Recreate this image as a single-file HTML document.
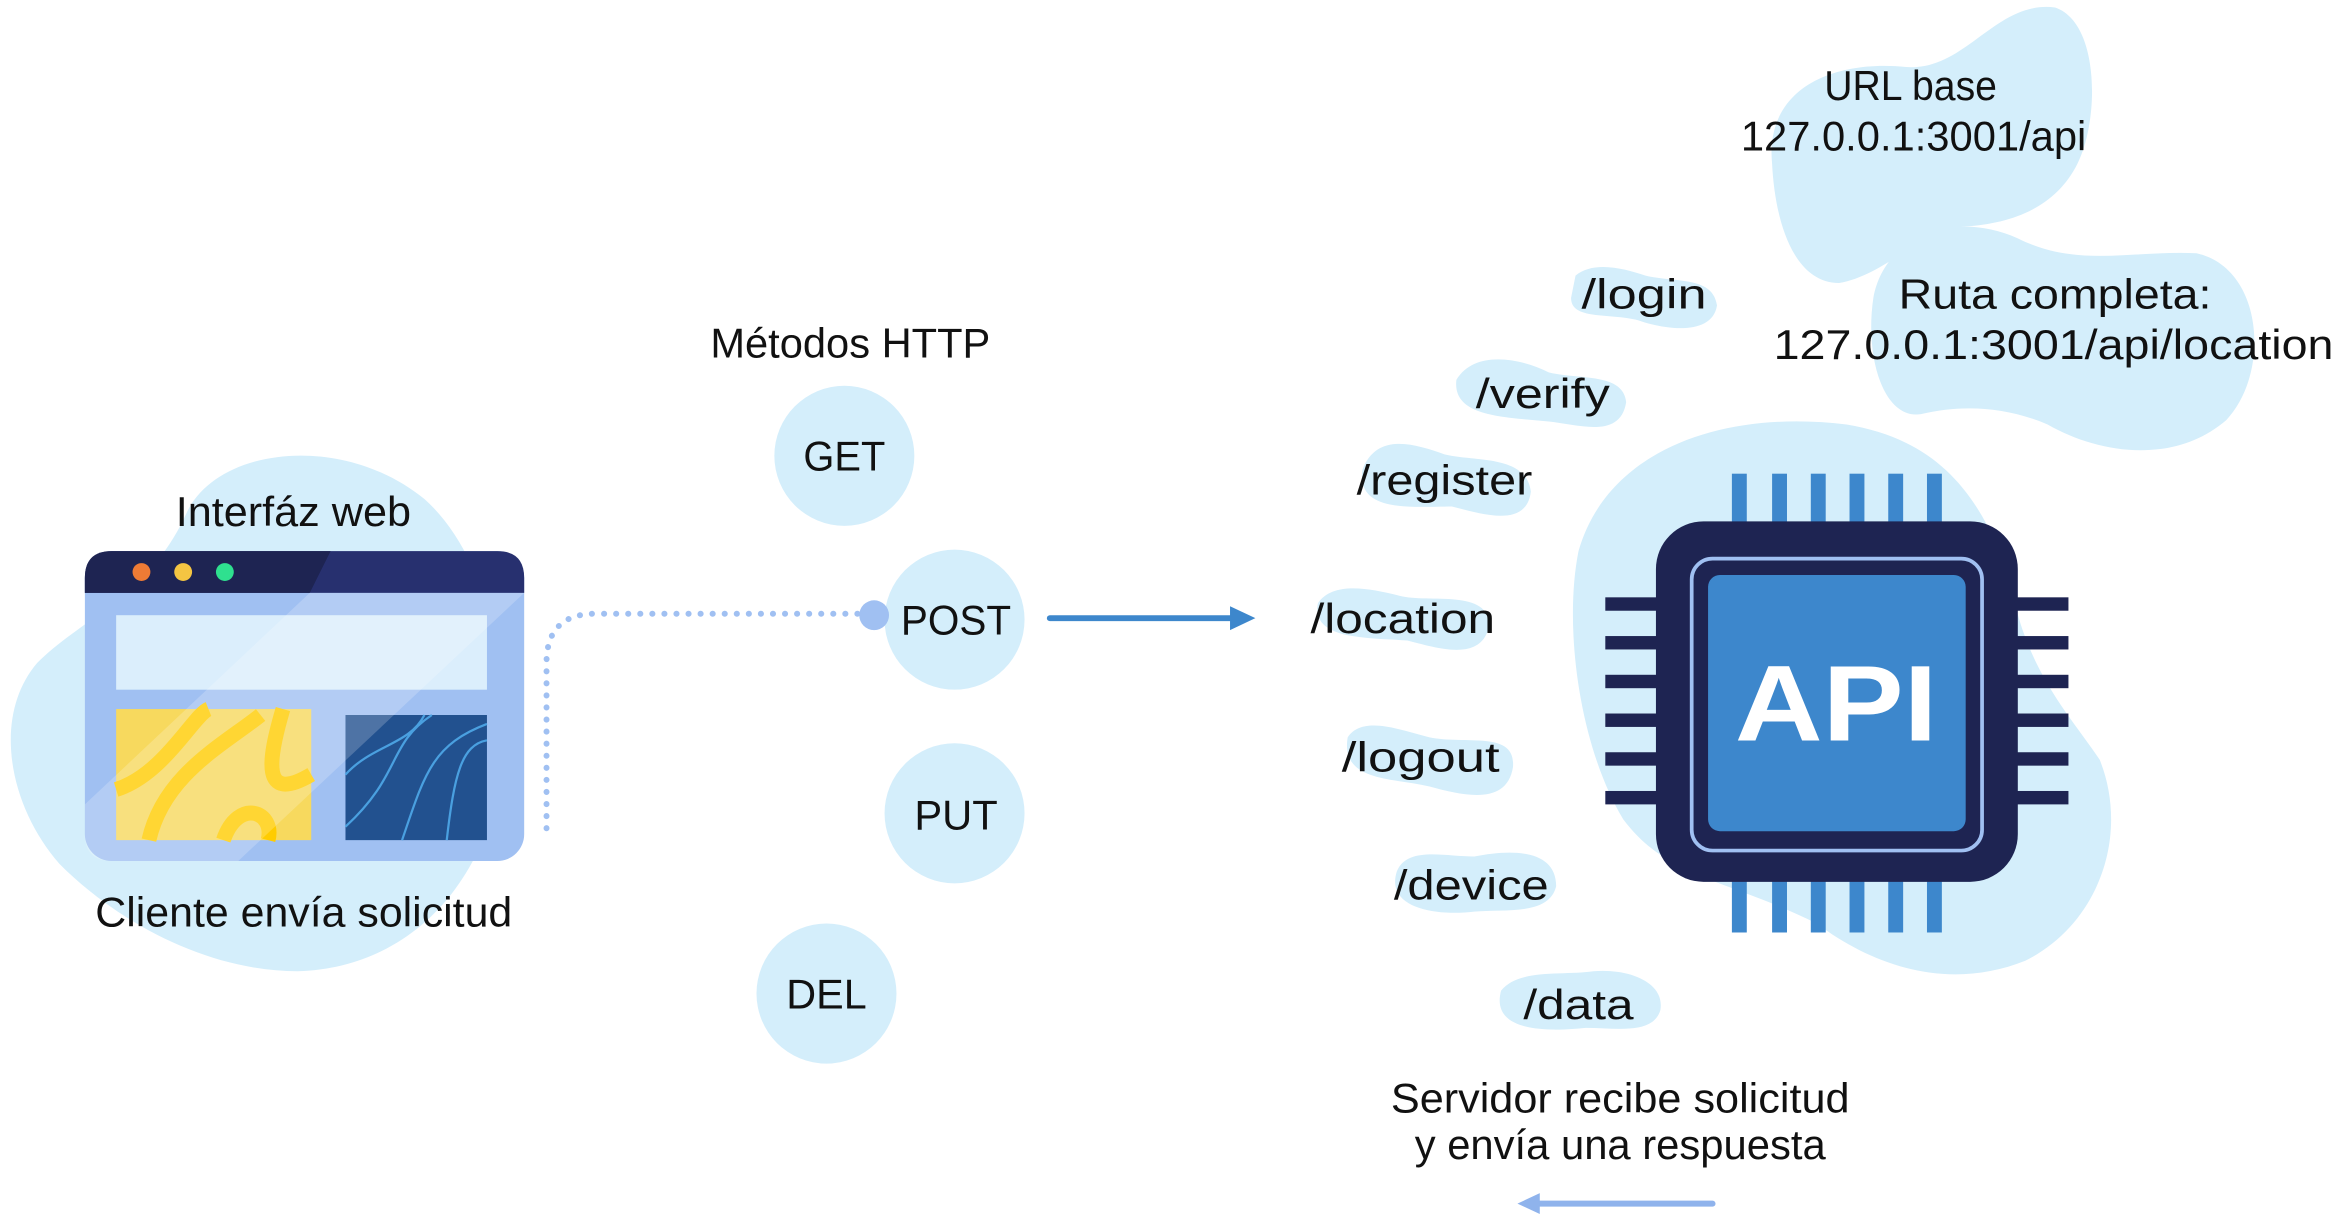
<!DOCTYPE html>
<html><head><meta charset="utf-8"><style>
html,body{margin:0;padding:0;background:#fff;}
svg{display:block;}
text{font-family:"Liberation Sans",sans-serif;fill:#111;}
</style></head><body>
<svg width="2335" height="1217" viewBox="0 0 1568 817" preserveAspectRatio="none" xmlns="http://www.w3.org/2000/svg">
<g fill="#d4eefb">
<path d="M125,345 C145,300 230,290 285,335 C330,375 345,460 335,530 C320,600 270,650 200,652 C140,652 80,620 40,580 C5,540 -5,480 25,445 C55,415 100,400 125,345Z"/>
<ellipse cx="567" cy="306" rx="47" ry="47"/>
<ellipse cx="641" cy="416" rx="47" ry="47"/>
<ellipse cx="641" cy="546" rx="47" ry="47"/>
<ellipse cx="555" cy="667" rx="47" ry="47"/>
<path d="M1190,110 C1185,60 1230,40 1280,45 C1320,48 1340,0 1380,5 C1410,15 1410,80 1395,110 C1380,140 1350,150 1320,152 C1290,155 1265,185 1235,190 C1205,190 1192,150 1190,110Z"/>
<path d="M1258,200 C1265,160 1310,140 1355,160 C1395,180 1430,168 1475,170 C1520,180 1525,250 1495,282 C1460,312 1410,305 1375,285 C1345,272 1315,272 1290,278 C1265,282 1252,240 1258,200Z"/>
<path d="M1060,370 C1080,300 1160,275 1240,285 C1300,295 1330,330 1350,390 C1360,450 1390,480 1410,510 C1430,560 1410,620 1360,645 C1310,665 1260,650 1220,620 C1160,590 1120,590 1090,550 C1060,500 1050,420 1060,370Z"/>
<path d="M1058,185 C1070,175 1090,180 1105,185 C1125,190 1150,185 1153,205 C1150,225 1120,222 1100,215 C1080,210 1055,215 1055,200Z"/>
<path d="M978,255 C990,235 1020,240 1040,250 C1060,255 1090,250 1092,270 C1088,295 1060,285 1040,283 C1010,280 975,280 978,255Z"/>
<path d="M915,315 C925,290 950,298 970,305 C990,310 1025,305 1028,330 C1025,355 995,345 975,340 C950,340 910,345 915,315Z"/>
<path d="M885,405 C895,390 920,395 940,400 C960,405 1000,395 1000,420 C995,445 965,435 945,430 C920,428 880,430 885,405Z"/>
<path d="M905,495 C915,480 940,490 960,495 C985,500 1018,490 1016,515 C1012,540 985,535 960,528 C935,522 900,525 905,495Z"/>
<path d="M938,585 C945,568 970,575 990,575 C1015,570 1045,570 1045,595 C1040,615 1010,610 990,612 C965,615 930,610 938,585Z"/>
<path d="M1008,665 C1020,650 1050,655 1070,652 C1095,650 1118,660 1115,678 C1110,695 1085,690 1065,690 C1045,692 1000,695 1008,665Z"/>
</g>

<!-- browser -->
<rect x="57" y="370" width="295" height="208" rx="18" fill="#a0c0f2"/>
<path d="M57,398 L57,388 Q57,370 75,370 L334,370 Q352,370 352,388 L352,398Z" fill="#27306f"/>
<path d="M57,398 L57,388 Q57,370 75,370 L222,370 L208,398Z" fill="#1e2452"/>
<circle cx="95" cy="384" r="6" fill="#ee7b35"/>
<circle cx="123" cy="384" r="6" fill="#f4c542"/>
<circle cx="151" cy="384" r="6" fill="#2fe08f"/>
<rect x="78" y="413" width="249" height="50" fill="#dbeefc"/>
<rect x="78" y="476" width="131" height="88" fill="#f7d95e"/>
<path d="M78,530 C110,520 130,480 140,476 M100,564 C110,520 150,500 175,480 M150,564 C160,535 185,545 180,564 M190,476 C180,510 175,540 209,520" stroke="#ffcc00" stroke-width="10" fill="none"/>
<rect x="232" y="480" width="95" height="84" fill="#22518f"/>
<path d="M232,520 C250,500 275,500 285,480 M232,555 C270,520 260,500 290,480 M270,564 C285,520 290,500 327,486 M300,564 C305,520 310,500 327,497" stroke="#4aa0e0" stroke-width="1.5" fill="none"/>
<path d="M208,398 L352,398 L160,578 L75,578 Q57,578 57,560 L57,540Z" fill="#fff" opacity="0.2"/>

<path d="M367,556 L367,445 Q367,412 400,412 L585,412" stroke="#a0c0f2" stroke-width="4" stroke-dasharray="0.1 8" stroke-linecap="round" fill="none"/>
<circle cx="587" cy="413" r="10" fill="#a0c0f2"/>

<line x1="705" y1="415" x2="830" y2="415" stroke="#3d87cc" stroke-width="4" stroke-linecap="round"/>
<path d="M826,407 L843,415 L826,423Z" fill="#3d87cc"/>

<line x1="1150" y1="808" x2="1032" y2="808" stroke="#8fb3ec" stroke-width="4" stroke-linecap="round"/>
<path d="M1034,801 L1019,808 L1034,815Z" fill="#8fb3ec"/>

<g fill="#3d87cc">
<rect x="1163" y="318" width="10" height="34"/><rect x="1190" y="318" width="10" height="34"/><rect x="1216" y="318" width="10" height="34"/><rect x="1242" y="318" width="10" height="34"/><rect x="1268" y="318" width="10" height="34"/><rect x="1294" y="318" width="10" height="34"/>
<rect x="1163" y="590" width="10" height="36"/><rect x="1190" y="590" width="10" height="36"/><rect x="1216" y="590" width="10" height="36"/><rect x="1242" y="590" width="10" height="36"/><rect x="1268" y="590" width="10" height="36"/><rect x="1294" y="590" width="10" height="36"/>
</g>
<g fill="#1e2452">
<rect x="1078" y="401" width="36" height="9"/><rect x="1078" y="427" width="36" height="9"/><rect x="1078" y="453" width="36" height="9"/><rect x="1078" y="479" width="36" height="9"/><rect x="1078" y="505" width="36" height="9"/><rect x="1078" y="531" width="36" height="9"/>
<rect x="1353" y="401" width="36" height="9"/><rect x="1353" y="427" width="36" height="9"/><rect x="1353" y="453" width="36" height="9"/><rect x="1353" y="479" width="36" height="9"/><rect x="1353" y="505" width="36" height="9"/><rect x="1353" y="531" width="36" height="9"/>
<rect x="1112" y="350" width="243" height="242" rx="32"/>
</g>
<rect x="1136" y="375" width="195" height="196" rx="14" fill="none" stroke="#a0c0f2" stroke-width="2.5"/>
<rect x="1147" y="386" width="173" height="172" rx="8" fill="#3d87cc"/>
<text x="1233" y="497" text-anchor="middle" font-size="72" font-weight="bold" style="fill:#fff" textLength="136" lengthAdjust="spacingAndGlyphs">API</text>

<g font-size="28">
<text x="197" y="353" text-anchor="middle" textLength="158" lengthAdjust="spacingAndGlyphs">Interfáz web</text>
<text x="204" y="622" text-anchor="middle" textLength="280" lengthAdjust="spacingAndGlyphs">Cliente envía solicitud</text>
<text x="571" y="240" text-anchor="middle" textLength="188" lengthAdjust="spacingAndGlyphs">Métodos HTTP</text>
<text x="567" y="316" text-anchor="middle" textLength="55" lengthAdjust="spacingAndGlyphs">GET</text>
<text x="642" y="426" text-anchor="middle" textLength="74" lengthAdjust="spacingAndGlyphs">POST</text>
<text x="642" y="557" text-anchor="middle" textLength="56" lengthAdjust="spacingAndGlyphs">PUT</text>
<text x="555" y="677" text-anchor="middle" textLength="54" lengthAdjust="spacingAndGlyphs">DEL</text>
<text x="1104" y="207" text-anchor="middle" textLength="84" lengthAdjust="spacingAndGlyphs">/login</text>
<text x="1036" y="274" text-anchor="middle" textLength="90" lengthAdjust="spacingAndGlyphs">/verify</text>
<text x="970" y="332" text-anchor="middle" textLength="118" lengthAdjust="spacingAndGlyphs">/register</text>
<text x="942" y="425" text-anchor="middle" textLength="124" lengthAdjust="spacingAndGlyphs">/location</text>
<text x="954" y="518" text-anchor="middle" textLength="106" lengthAdjust="spacingAndGlyphs">/logout</text>
<text x="988" y="604" text-anchor="middle" textLength="104" lengthAdjust="spacingAndGlyphs">/device</text>
<text x="1060" y="684" text-anchor="middle" textLength="74" lengthAdjust="spacingAndGlyphs">/data</text>
<text x="1283" y="67" text-anchor="middle" textLength="116" lengthAdjust="spacingAndGlyphs">URL base</text>
<text x="1285" y="101" text-anchor="middle" textLength="232" lengthAdjust="spacingAndGlyphs">127.0.0.1:3001/api</text>
<text x="1380" y="207" text-anchor="middle" textLength="210" lengthAdjust="spacingAndGlyphs">Ruta completa:</text>
<text x="1379" y="241" text-anchor="middle" textLength="376" lengthAdjust="spacingAndGlyphs">127.0.0.1:3001/api/location</text>
<text x="1088" y="747" text-anchor="middle" textLength="308" lengthAdjust="spacingAndGlyphs">Servidor recibe solicitud</text>
<text x="1088" y="778" text-anchor="middle" textLength="276" lengthAdjust="spacingAndGlyphs">y envía una respuesta</text>
</g>
</svg>
</body></html>
